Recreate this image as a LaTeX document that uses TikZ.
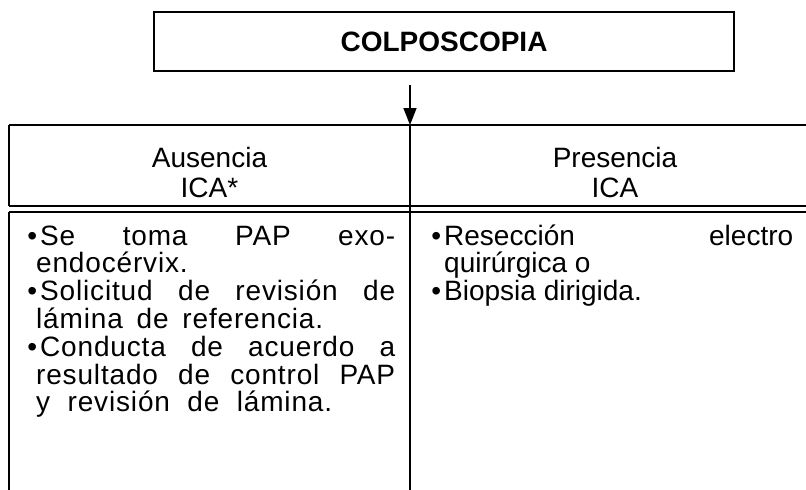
\documentclass[tikz,border=0pt]{standalone}
\usepackage{fontspec}
\setmainfont{Liberation Sans}
\usetikzlibrary{arrows.meta}
\newcommand{\bul}{\llap{•\hspace{3pt}}}
\begin{document}
\begin{tikzpicture}[x=1pt,y=-1pt,
  txt/.style={inner sep=0pt, anchor=base west, font=\fontsize{28}{32}\selectfont},
  ltxt/.style={txt, font=\fontsize{28}{32}\selectfont\addfontfeature{LetterSpace=3}},
  hdr/.style={inner sep=0pt, anchor=base, font=\fontsize{28}{32}\selectfont},
  rule/.style={line width=1.6pt},
  ]
\useasboundingbox (0,0) rectangle (806,490);
\node[draw, line width=2pt, minimum width=580pt, minimum height=59pt, inner sep=0pt,
  font=\fontsize{28}{32}\selectfont\bfseries] (colpo) at (444,41.5) {COLPOSCOPIA};
\coordinate (arrtop) at (410,85);
\coordinate (tabtop) at (410,125);
\draw[rule, -{Triangle[length=17pt,width=13pt]}] (arrtop) -- (tabtop);
% table
\draw[rule] (9,125) -- (806,125);
\draw[rule] (9,125) -- (9,206);
\draw[line width=2.2pt] (9,206) -- (806,206);
\draw[rule] (9,212) -- (806,212);
\draw[rule] (9,212) -- (9,490);
\draw[rule] (410,125) -- (410,490);
% headers
\node[hdr] (aus1) at (209.5,167) {Ausencia};
\node[hdr] (aus2) at (209.5,197) {ICA*};
\node[hdr] (pre1) at (615,167) {Presencia};
\node[hdr] (pre2) at (615,197) {ICA};
% left column
\node[ltxt] (l1) at (40,245) {\makebox[355pt][s]{\bul Se toma PAP exo-}};
\node[ltxt] (l2) at (36,272.8) {endocérvix.};
\node[ltxt] (l3) at (40,300.6) {\makebox[355pt][s]{\bul Solicitud de revisión de}};
\node[ltxt] (l4) at (36,328.4) {\makebox[287pt][s]{lámina de referencia.}};
\node[ltxt] (l5) at (40,356.2) {\makebox[355pt][s]{\bul Conducta de acuerdo a}};
\node[ltxt] (l6) at (36,384) {\makebox[359pt][s]{resultado de control PAP}};
\node[ltxt] (l7) at (36,411.8) {\makebox[296pt][s]{y revisión de lámina.}};
% right column
\node[txt] (r1) at (444,245) {\makebox[349pt][s]{\bul Resección electro}};
\node[txt] (r2) at (444,272.8) {quirúrgica o};
\node[txt] (r3) at (444,300.6) {\bul Biopsia dirigida.};
\end{tikzpicture}
\end{document}
